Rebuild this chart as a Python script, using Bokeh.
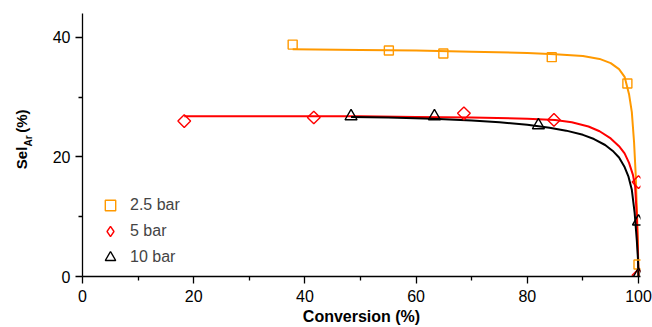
import math
from bokeh.plotting import figure
from bokeh.layouts import row
from bokeh.models import Range1d, FixedTicker, Label, Legend, LegendItem
from bokeh.embed import file_html
from bokeh.resources import INLINE

# ---- data ----
# measured points
x25 = [37.8, 55.1, 64.9, 84.4, 98.0, 100.0]
y25 = [38.8, 37.8, 37.3, 36.7, 32.3, 2.0]
x5 = [18.3, 41.6, 68.6, 84.8, 100.0, 100.0]
y5 = [26.0, 26.6, 27.3, 26.2, 15.8, 0.2]
x10 = [48.3, 63.3, 82.0, 100.0, 100.0]
y10 = [26.8, 26.8, 25.3, 9.2, 0.3]

# fitted curves
cx25 = [37.8, 50, 60, 70, 80, 85, 90, 93, 95, 96.5, 97.5, 98.3, 98.8, 99.2, 99.5, 99.75, 99.9, 100]
cy25 = [38.0, 37.9, 37.8, 37.6, 37.4, 37.2, 36.9, 36.4, 35.7, 34.7, 33.4, 30.5, 27.5, 22.5, 17.0, 10.0, 5.0, 0.0]
cx5 = [18.3, 30, 40, 50, 60, 70, 80, 85, 88, 91, 93, 95, 96.5, 97.5, 98.3, 99.0, 99.4, 99.7, 99.9, 100]
cy5 = [26.8, 26.8, 26.8, 26.8, 26.7, 26.6, 26.4, 26.2, 25.8, 25.1, 24.3, 23.1, 21.8, 20.6, 19.0, 17.0, 15.0, 10.0, 4.0, 0.0]
cx10 = [48.3, 55, 63, 70, 75, 80, 84, 87, 90, 92, 94, 95.5, 96.5, 97.5, 98.2, 98.8, 99.3, 99.7, 99.9, 100]
cy10 = [26.7, 26.6, 26.4, 26.1, 25.8, 25.4, 24.9, 24.4, 23.7, 23.0, 22.0, 20.9, 19.9, 18.3, 16.7, 14.5, 10.7, 6.0, 3.0, 0.0]

labels = ["2.5 bar", "5 bar", "10 bar"]
x_ticks = [0, 20, 40, 60, 80, 100]
x_minor = [10, 30, 50, 70, 90]
y_ticks = [0, 20, 40]
y_minor = [10, 30]

ORANGE = "#FF9900"
RED = "#FF0000"
BLACK = "#000000"
FONT = "Liberation Sans"

H = 327
LW = 40
TOP, BOTTOM = 13, 50   # frame borders shared by both panels

# ---- left strip holding the y-axis title (with subscript) ----
lab = figure(width=LW, height=H, x_range=Range1d(0, LW), y_range=Range1d(BOTTOM, H - TOP),
             output_backend="svg", toolbar_location=None,
             x_axis_location=None, y_axis_location=None,
             min_border_left=0, min_border_right=0, min_border_top=TOP, min_border_bottom=BOTTOM)
lab.outline_line_color = None
lab.grid.visible = False
lab.title.visible = False
common = dict(angle=math.pi / 2, text_font=FONT, text_font_style="bold",
              text_align="center", text_baseline="middle", text_color="black")
lab.add_layout(Label(x=21, y=H - 158, text="Sel", text_font_size="15px", **common))
lab.add_layout(Label(x=27.5, y=H - 141, text="Ar", text_font_size="10px", **common))
lab.add_layout(Label(x=21, y=H - 121, text="(%)", text_font_size="15px", **common))

# ---- main plot ----
p = figure(width=652 - LW, height=H, x_range=Range1d(0, 100.36), y_range=Range1d(0, 44),
           output_backend="svg", toolbar_location=None,
           min_border_left=82 - LW, min_border_right=12, min_border_top=TOP, min_border_bottom=BOTTOM)
p.outline_line_color = None
p.grid.visible = False

for ax in (p.xaxis[0], p.yaxis[0]):
    ax.axis_line_color = "black"
    ax.axis_line_width = 1.3
    ax.major_tick_line_color = "black"
    ax.major_tick_line_width = 1.3
    ax.minor_tick_line_color = "black"
    ax.minor_tick_line_width = 1.3
    ax.major_tick_in = 0
    ax.major_tick_out = 7
    ax.minor_tick_in = 0
    ax.minor_tick_out = 4
    ax.major_label_text_font = FONT
    ax.major_label_text_font_size = "16px"
    ax.major_label_text_color = "black"

p.xaxis[0].ticker = FixedTicker(ticks=x_ticks, minor_ticks=x_minor)
p.yaxis[0].ticker = FixedTicker(ticks=y_ticks, minor_ticks=y_minor)
p.xaxis[0].major_label_standoff = 6
p.yaxis[0].major_label_standoff = 5
p.xaxis[0].axis_label = "Conversion (%)"
p.xaxis[0].axis_label_text_font = FONT
p.xaxis[0].axis_label_text_font_size = "16px"
p.xaxis[0].axis_label_text_font_style = "bold"
p.xaxis[0].axis_label_text_color = "black"
p.xaxis[0].axis_label_standoff = 3

# curves
p.line(cx25, cy25, line_color=ORANGE, line_width=2)
p.line(cx5, cy5, line_color=RED, line_width=2)
p.line(cx10, cy10, line_color=BLACK, line_width=2)

# markers (diamonds drawn as squares turned by 45 degrees)
r25 = p.scatter(x25, y25, marker="square", size=9, fill_color=None,
                line_color=ORANGE, line_width=1.4)
p.scatter(x5, y5, marker="square", angle=math.pi / 4, size=9, fill_color=None,
          line_color=RED, line_width=1.4)
r10 = p.scatter(x10, y10, marker="triangle", size=12, fill_color=None,
                line_color=BLACK, line_width=1.4)
# hidden diamond renderer that only supplies the legend glyph
r5_leg = p.scatter(x5, y5, marker="diamond", size=12, fill_color=None,
                   line_color=RED, line_width=1.4, visible=False)

legend = Legend(items=[LegendItem(label=labels[0], renderers=[r25]),
                       LegendItem(label=labels[1], renderers=[r5_leg]),
                       LegendItem(label=labels[2], renderers=[r10])],
                location=(15, 6), padding=0, margin=0, spacing=0,
                glyph_height=26, glyph_width=26, label_height=26, label_standoff=7,
                label_text_font=FONT, label_text_font_size="16px",
                inactive_fill_alpha=0,
                border_line_alpha=0, background_fill_alpha=0)
p.add_layout(legend)

open("out.html", "w").write(file_html(row(lab, p), INLINE))
